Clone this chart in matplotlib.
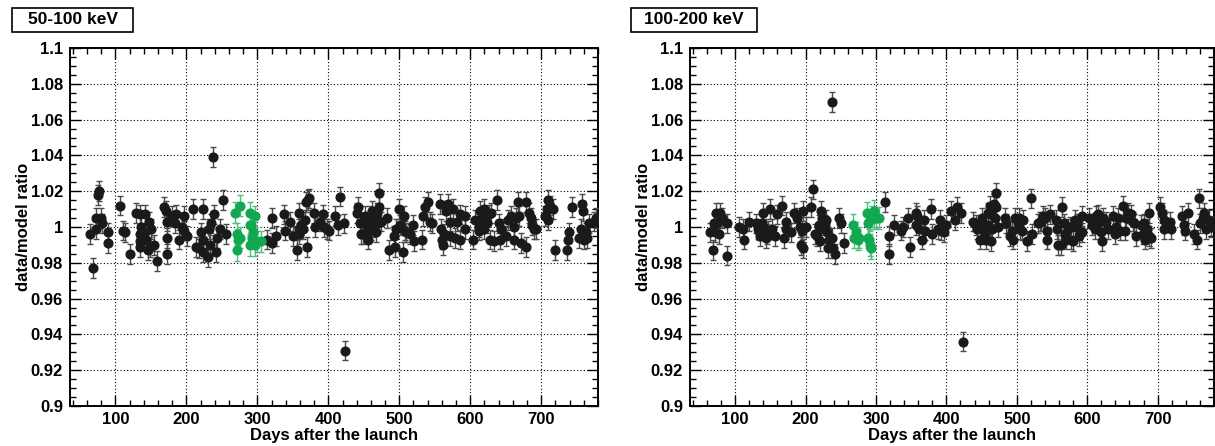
import matplotlib.pyplot as plt
from matplotlib.patches import Rectangle
from matplotlib.ticker import MultipleLocator, FuncFormatter

# ---- 50-100 keV ----
days_lo = [64, 68, 72, 73, 76, 77, 80, 81, 89, 89, 107, 110, 113, 120, 129, 134, 134, 135, 136, 135,
           141, 141, 143, 146, 148, 149, 150, 155, 159, 168, 171, 172, 172, 173, 180, 185, 184, 190,
           194, 196, 197, 201, 210, 214, 218, 223, 221, 223, 223, 231, 232, 234, 233, 238, 239, 242,
           243, 248, 251, 256,
           314, 320, 320, 326, 338, 339, 346, 350, 356, 358, 359, 359, 362, 365, 367, 368, 372, 373,
           370, 380, 381, 388, 393, 394, 398, 401, 409, 413, 416, 422, 423, 440, 442, 444, 446, 449,
           452, 454, 456, 456, 459, 460, 461, 463, 466, 467, 468, 470, 472, 472, 474, 483, 486, 492,
           494, 496, 500, 501, 505, 506, 508, 510, 515, 520, 521, 532, 534, 536, 541,
           543, 546, 557, 559, 560, 562, 563, 566, 569, 571, 571, 576, 579, 582, 585, 586, 592, 593,
           604, 606, 612, 613, 614, 617, 619, 620, 623, 626, 628, 629, 633, 638, 640, 643, 642, 650,
           653, 657, 661, 662, 664, 667, 668, 671, 679, 679, 683, 685, 687, 690, 692, 705, 708, 709,
           709, 712, 717, 719, 737, 738, 739, 744, 753, 756, 758, 759, 760, 763, 765, 768, 774, 777]
ratio_lo = [0.996, 0.977, 0.999, 1.005, 1.018, 1.020, 1.005, 1.002, 0.997, 0.991, 1.012, 0.998, 0.997,
            0.985, 1.008, 1.007, 0.996, 0.992, 1.000, 0.989, 1.007, 0.997, 0.993, 0.987, 1.003, 0.989,
            0.999, 0.990, 0.981, 1.011, 1.009, 1.003, 0.994, 0.985, 1.006, 1.007, 1.002, 0.993, 1.000,
            0.998, 1.006, 0.995, 1.010, 0.989, 0.988, 1.010, 0.997, 0.993, 0.986, 0.983, 0.999, 1.002,
            0.990, 1.039, 1.007, 0.986, 0.994, 0.999, 1.015, 0.996,
            0.993, 1.005, 0.991, 0.995, 1.007, 0.998, 1.003, 0.995, 0.987, 1.008, 0.999, 0.996, 1.001,
            0.999, 1.004, 1.014, 1.015, 1.016, 0.989, 1.008, 1.000, 1.003, 1.007, 1.000, 0.999, 0.998,
            1.006, 1.001, 1.017, 1.002, 0.931, 1.008, 1.011, 1.002, 0.996, 0.996, 1.006, 0.999, 1.002,
            0.993, 1.006, 0.998, 1.009, 1.000, 1.004, 0.997, 1.008, 1.002, 1.019, 1.011, 1.003, 1.005,
            0.987, 0.995, 0.989, 0.999, 1.010, 1.001, 0.986, 1.006, 0.998, 0.997, 0.996, 1.001, 0.992,
            0.993, 1.006, 1.011, 1.014,
            1.003, 1.002, 1.013, 0.999, 0.993, 0.990, 0.996, 1.009, 1.013, 1.003, 0.995, 1.010, 0.994,
            1.003, 0.993, 1.007, 1.006, 0.999, 0.993, 1.004, 1.000, 0.998, 1.009, 1.005, 1.010, 0.999,
            1.002, 1.007, 0.993, 1.008, 0.992, 1.015, 1.002, 0.999, 0.993, 0.995, 1.004, 1.006, 1.000,
            0.993, 1.005, 1.014, 1.006, 0.991, 1.014, 0.989, 1.008, 1.005, 1.001, 0.999, 0.999, 1.006,
            1.010, 1.015, 1.004, 1.012, 1.010, 0.987, 0.987, 0.993, 0.997, 1.011, 0.994, 0.999, 1.013,
            1.009, 0.993, 0.997, 0.994, 1.002, 1.003, 1.005]
days_lo_green = [268, 271, 272, 273, 275, 275, 289, 289, 289, 291, 292, 294, 296, 297, 300, 305]
ratio_lo_green = [1.008, 0.996, 0.987, 0.993, 1.012, 0.994, 1.008, 1.001, 0.990, 1.001, 0.994, 0.997,
                  1.006, 0.990, 0.992, 0.992]

# ---- 100-200 keV ----
days_hi = [64, 69, 70, 72, 73, 75, 77, 78, 81, 88, 88, 106, 111, 113, 120, 130, 133, 134, 135, 138,
           140, 142, 144, 146, 147, 149, 152, 156, 159, 167, 170, 172, 172, 180, 183, 188, 192, 193,
           195, 196, 197, 201, 208, 210, 213, 216, 219, 220, 222, 224, 221, 227, 229, 230, 232, 233,
           238, 238, 239, 242, 247, 250, 255,
           313, 319, 319, 325, 336, 338, 345, 349, 357, 357, 359, 361, 366, 368, 370, 378, 379, 388,
           391, 393, 396, 399, 407, 412, 415, 421, 423, 438, 442, 443, 448, 451, 454, 455, 456, 459,
           459, 462, 463, 464, 465, 467, 469, 470, 471, 473, 483, 484, 490, 493, 494, 497, 501, 503,
           504, 507, 509, 514, 520, 521, 530,
           533, 535, 537, 540, 543, 543, 547, 556, 557, 559, 563, 564, 567, 568, 570, 572, 575, 577,
           580, 582, 584, 586, 589, 592, 593, 603, 607, 611, 613, 615, 616, 620, 621, 622, 627, 629,
           636, 639, 641, 643, 647, 651, 654, 655, 658, 662, 665, 667, 669, 676, 679, 680, 682, 685,
           687, 688, 691, 704, 706, 709, 709, 712, 717, 719, 735, 738, 739, 743, 752, 756, 758, 760,
           764, 766, 768, 773, 776]
ratio_hi = [0.997, 0.987, 1.002, 0.997, 1.008, 1.002, 0.996, 1.008, 1.005, 0.984, 1.002, 1.000, 0.999,
            0.993, 1.003, 1.002, 0.999, 0.998, 0.995, 1.002, 1.008, 0.999, 0.994, 0.996, 0.998, 1.010,
            0.999, 0.995, 1.007, 1.012, 0.994, 1.003, 0.999, 0.997, 1.008, 1.005, 1.000, 0.990, 0.998,
            0.988, 1.009, 1.000, 1.011, 1.021, 0.996, 0.995, 1.001, 0.999, 1.009, 1.005, 0.992, 1.001,
            1.004, 0.997, 0.988, 0.993, 0.994, 1.070, 0.988, 0.985, 1.005, 1.002, 0.991,
            1.014, 0.995, 0.985, 1.001, 0.998, 1.000, 1.005, 0.989, 1.008, 1.001, 1.006, 0.999, 0.993,
            1.004, 0.998, 1.010, 0.996, 0.999, 1.004, 0.998, 0.997, 1.001, 1.009, 1.004, 1.011, 1.008,
            0.936, 1.003, 1.001, 0.999, 0.993, 1.005, 1.001, 0.996, 0.993, 1.008, 1.001, 1.012, 0.992,
            1.007, 0.999, 1.013, 1.005, 1.019, 1.011, 1.000, 1.005, 1.002, 0.995, 0.998, 0.993, 1.005,
            1.002, 1.005, 0.999, 0.998, 1.004, 0.992, 1.016, 0.996, 1.002,
            1.003, 1.003, 1.006, 1.005, 0.998, 0.993, 1.007, 1.004, 0.999, 0.990, 0.990, 1.011, 1.002,
            0.996, 0.993, 0.999, 1.000, 0.993, 0.992, 1.004, 1.000, 1.002, 0.995, 0.997, 1.006, 1.005,
            1.001, 0.999, 1.006, 1.007, 1.002, 0.997, 0.992, 1.005, 1.003, 0.999, 1.006, 0.996, 1.000,
            1.005, 0.998, 1.012, 0.998, 1.005, 1.008, 1.007, 1.003, 1.002, 0.995, 1.001, 0.996, 1.002,
            0.993, 0.999, 1.008, 0.995, 0.994, 1.011, 1.008, 1.004, 0.999, 1.003, 1.003, 0.999, 1.006,
            1.001, 0.998, 1.008, 0.996, 0.993, 1.016, 1.002, 1.005, 1.008, 0.999, 1.004, 1.000]
days_hi_green = [267, 269, 271, 274, 276, 287, 289, 289, 290, 291, 292, 293, 294, 297, 297, 300, 304]
ratio_hi_green = [1.001, 0.994, 0.997, 0.993, 0.994, 1.008, 1.002, 0.994, 0.993, 0.990, 1.004, 0.988,
                  1.006, 1.005, 1.009, 1.005, 1.005]

err_black = 0.0055
err_green = 0.006
titles = ['50-100 keV', '100-200 keV']

plt.rcParams['font.family'] = ['Liberation Sans', 'DejaVu Sans']
plt.rcParams['font.weight'] = 'bold'

W, H = 1215, 446
fig = plt.figure(figsize=(W / 100, H / 100), dpi=100)

panels = [
    (70, 598, days_lo, ratio_lo, days_lo_green, ratio_lo_green, (12, 133)),
    (690, 1214, days_hi, ratio_hi, days_hi_green, ratio_hi_green, (631, 757)),
]

for i, (x0, x1, dx, ry, gx, gy, box) in enumerate(panels):
    ax = fig.add_axes([x0 / W, 40 / H, (x1 - x0) / W, 358 / H])

    ax.errorbar(dx, ry, yerr=err_black, fmt='o', color='#1a1a1a', ms=6.3,
                ecolor='#4a4a4a', elinewidth=1, capsize=2, capthick=1, zorder=3)
    ax.errorbar(gx, gy, yerr=err_green, fmt='o', color='#12a852', ms=6.3,
                ecolor='#4cc07c', elinewidth=1, capsize=2, capthick=1, zorder=4)

    ax.set_xlim(36, 780)
    ax.set_ylim(0.9, 1.1)
    ax.xaxis.set_major_locator(MultipleLocator(100))
    ax.xaxis.set_minor_locator(MultipleLocator(20))
    ax.yaxis.set_major_locator(MultipleLocator(0.02))
    ax.yaxis.set_minor_locator(MultipleLocator(0.005))
    ax.yaxis.set_major_formatter(FuncFormatter(lambda v, p: '%g' % round(v, 2)))
    ax.tick_params(which='both', direction='in', top=True, right=True, labelsize=12)
    ax.tick_params(which='major', length=8, width=1)
    ax.tick_params(which='minor', length=4, width=1)
    ax.tick_params(axis='x', pad=4)
    ax.tick_params(axis='y', pad=5)
    ax.grid(True, which='major', linestyle=(0, (1, 2)), color='black', linewidth=0.8)
    for s in ax.spines.values():
        s.set_linewidth(1.4)

    ax.set_xlabel('Days after the launch', fontsize=12, fontweight='bold')
    ax.xaxis.set_label_coords(0.5, -0.062)
    ax.set_ylabel('data/model ratio', fontsize=12, fontweight='bold')
    ax.yaxis.set_label_coords(-0.074, 0.5)

    bx0, bx1 = box
    fig.add_artist(Rectangle((bx0 / W, 1 - 32 / H), (bx1 - bx0) / W, 24 / H,
                             transform=fig.transFigure, fc='white', ec='black', lw=1.2))
    fig.text((bx0 + bx1) / 2 / W, 1 - 20 / H, titles[i], ha='center', va='center',
             fontsize=12.5, fontweight='bold')

fig.savefig('out.png', dpi=100)
